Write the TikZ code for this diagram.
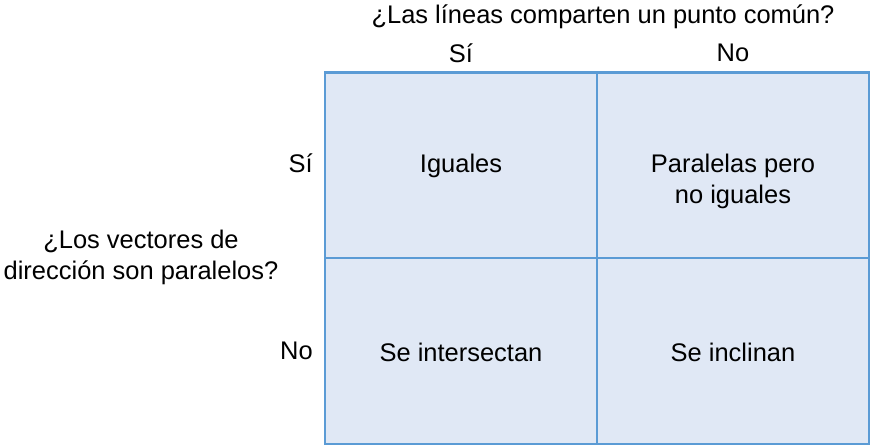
\documentclass[tikz,border=0pt]{standalone}
\usepackage{fontspec}
\setmainfont{Liberation Sans}
\definecolor{cellfill}{HTML}{E0E8F5}
\definecolor{celldraw}{HTML}{5B9BD5}
\begin{document}
\begin{tikzpicture}[x=0.75pt,y=-0.75pt,
  cell/.style={draw=celldraw,fill=cellfill,line width=2.2pt,minimum width=204pt,minimum height=139.5pt,inner sep=0pt,anchor=center,align=center,font=\fontsize{19.1}{23.25}\selectfont},
  lbl/.style={inner sep=0pt,align=center,font=\fontsize{19.1}{23.25}\selectfont}]
\useasboundingbox (0,0) rectangle (872,447);
\node[cell] (c11) at (461,165.5) {};
\node[cell] (c12) at (733,165.5) {};
\node[cell] (c21) at (461,351) {};
\node[cell] (c22) at (733,351) {};
\node[lbl] (t11) at (461,166) {Iguales};
\node[lbl] (t12) at (733,181.5) {Paralelas pero\\no iguales};
\node[lbl] (t21) at (461,352) {Se intersectan};
\node[lbl] (t22) at (733,352) {Se inclinan};
\node[lbl] (top) at (603,17) {¿Las líneas comparten un punto común?};
\node[lbl] (csi) at (461,53) {Sí};
\node[lbl] (cno) at (733,53) {No};
\node[lbl,anchor=east] (rsi) at (313,163) {Sí};
\node[lbl,anchor=east] (rno) at (313,351) {No};
\node[lbl] (left) at (141,257.5) {¿Los vectores de\\dirección son paralelos?};
\end{tikzpicture}
\end{document}
